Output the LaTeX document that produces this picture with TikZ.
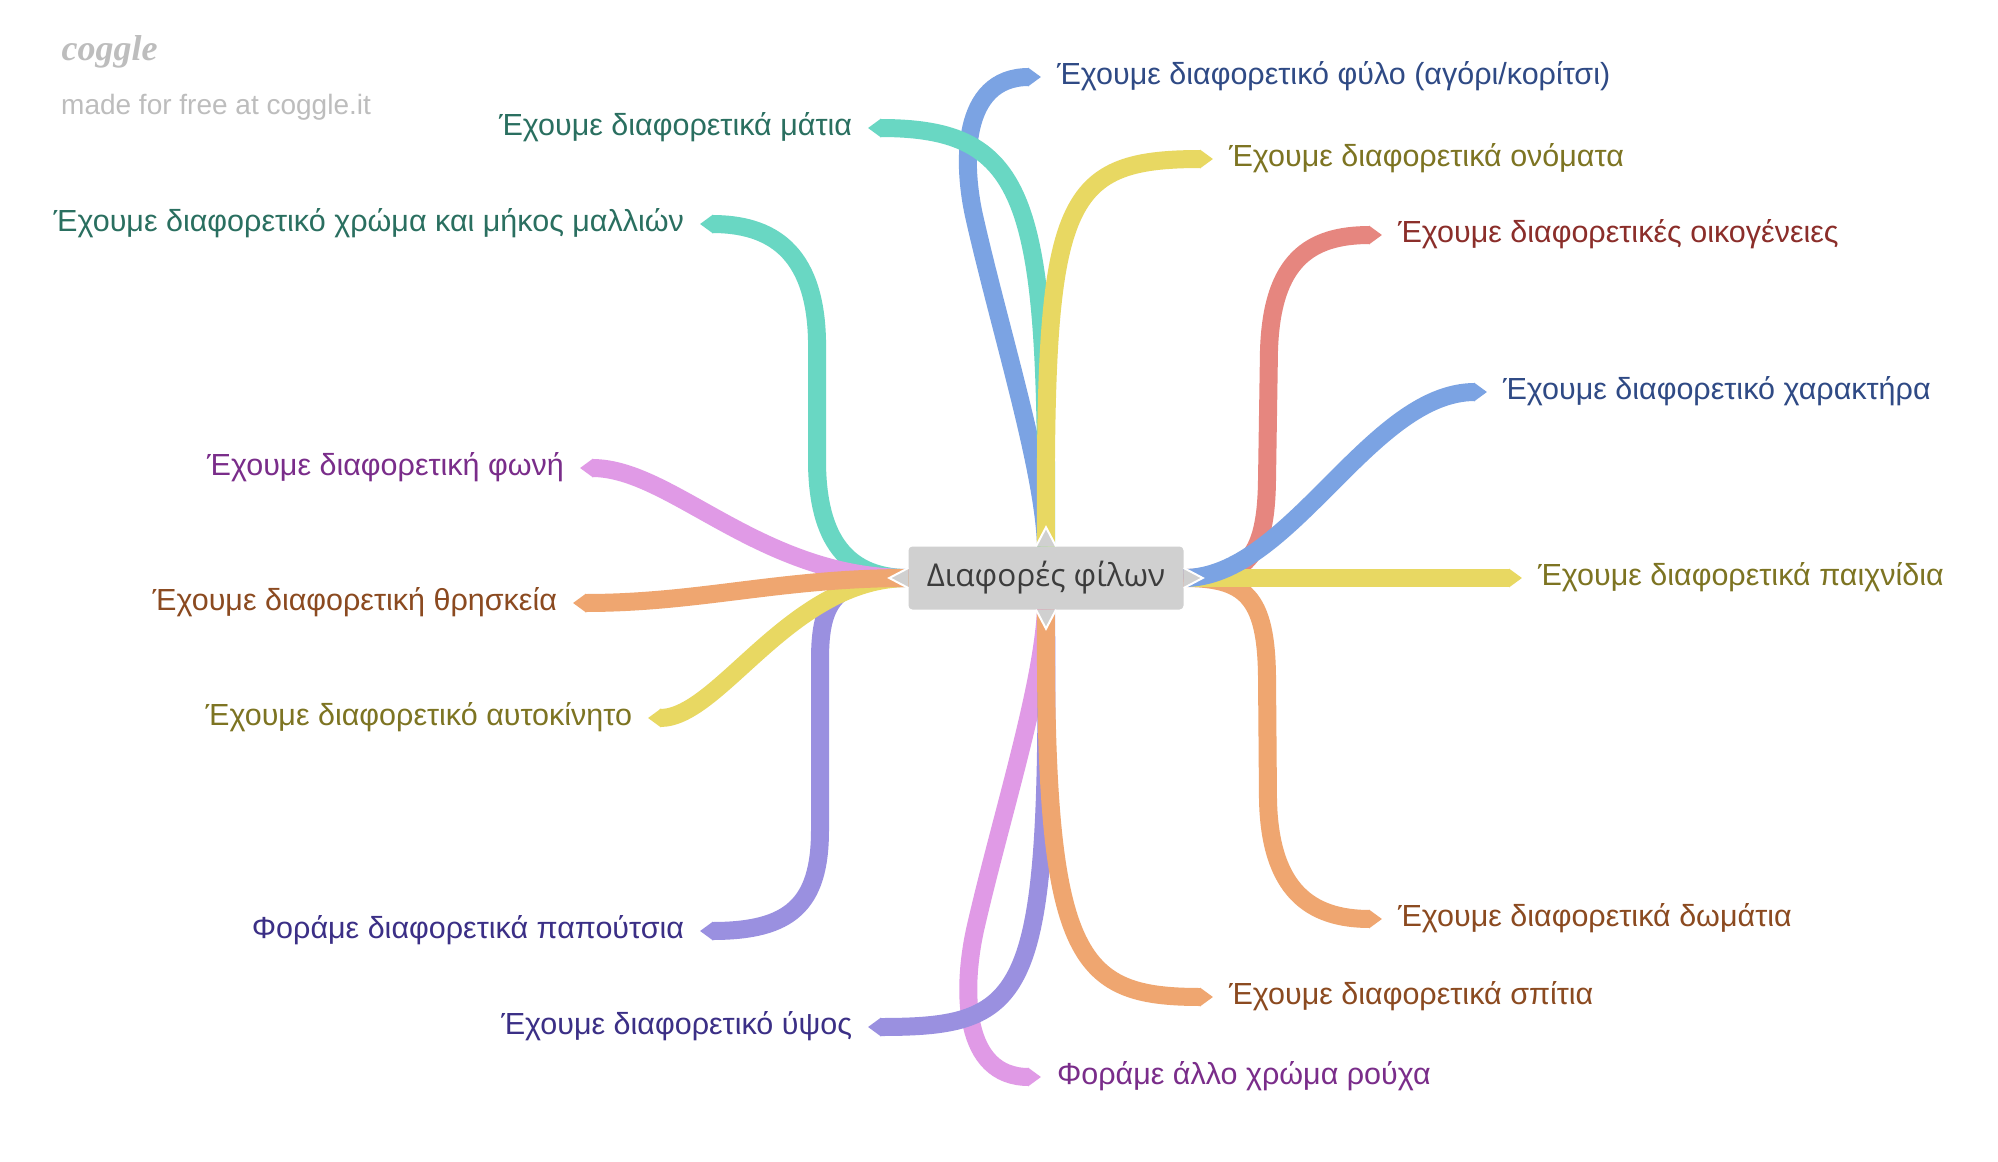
\documentclass[tikz,border=0pt]{standalone}
\usepackage{fontspec}
\setmainfont{Liberation Sans}
\newfontfamily\ctrfont{Open Sans}
\newfontfamily\logofont{Liberation Serif}
\usetikzlibrary{arrows.meta}
\definecolor{brBlue}{HTML}{7BA3E3}
\definecolor{txBlue}{HTML}{2F4A85}
\definecolor{brTeal}{HTML}{69D7C3}
\definecolor{txTeal}{HTML}{2A6F60}
\definecolor{brYellow}{HTML}{E8D862}
\definecolor{txYellow}{HTML}{7D7422}
\definecolor{brRed}{HTML}{E6867F}
\definecolor{txRed}{HTML}{8B2E2A}
\definecolor{brOrange}{HTML}{EFA670}
\definecolor{txOrange}{HTML}{8B4A20}
\definecolor{brPink}{HTML}{E09AE6}
\definecolor{txPink}{HTML}{7A2D8A}
\definecolor{brPurple}{HTML}{9A90E0}
\definecolor{txPurple}{HTML}{3B2F86}
\definecolor{boxGray}{HTML}{D0D0D0}
\definecolor{ctrText}{HTML}{3C3C3C}
\definecolor{logoGray}{HTML}{BDBDBD}

\begin{document}
\begin{tikzpicture}[x=1pt,y=-1pt,
  branch/.style={line width=18pt,-{Triangle[length=13pt,width=18pt]}},
  lblR/.style={anchor=west,inner sep=0pt,outer xsep=16pt,text height=15pt,text depth=0pt,font=\fontsize{30.5}{36}\selectfont},
  lblL/.style={lblR,anchor=east}]
\fill[white] (0,0) rectangle (1998,1162);
\useasboundingbox (0,0) rectangle (1998,1162);
\node[anchor=west,text=logoGray,font=\logofont\bfseries\itshape\fontsize{36}{40}\selectfont] (logo) at (58,52) {coggle};
\node[anchor=base west,inner sep=0pt,text=logoGray,font=\fontsize{28}{32}\selectfont] (made) at (61,114) {made for free at coggle.it};
\node[fill=boxGray,rounded corners=4pt,minimum width=275pt,minimum height=63pt,text=ctrText,font=\ctrfont\fontsize{31.5}{38}\selectfont] (ctr) at (1046,578) {Διαφορές φίλων};
\node[lblR,text=txBlue] (gender) at (1041,77) {Έχουμε διαφορετικό φύλο (αγόρι/κορίτσι)};
\node[lblR,text=txYellow] (names) at (1213,159) {Έχουμε διαφορετικά ονόματα};
\node[lblR,text=txRed] (family) at (1382,235) {Έχουμε διαφορετικές οικογένειες};
\node[lblR,text=txBlue] (character) at (1487,392) {Έχουμε διαφορετικό χαρακτήρα};
\node[lblR,text=txYellow] (toys) at (1522,578) {Έχουμε διαφορετικά παιχνίδια};
\node[lblR,text=txOrange] (rooms) at (1382,919) {Έχουμε διαφορετικά δωμάτια};
\node[lblR,text=txOrange] (houses) at (1213,997) {Έχουμε διαφορετικά σπίτια};
\node[lblR,text=txPink] (clothes) at (1041,1077) {Φοράμε άλλο χρώμα ρούχα};
\node[lblL,text=txTeal] (eyes) at (868,128) {Έχουμε διαφορετικά μάτια};
\node[lblL,text=txTeal] (hair) at (700,224) {Έχουμε διαφορετικό χρώμα και μήκος μαλλιών};
\node[lblL,text=txPink] (voice) at (580,468) {Έχουμε διαφορετική φωνή};
\node[lblL,text=txOrange] (religion) at (573,603) {Έχουμε διαφορετική θρησκεία};
\node[lblL,text=txYellow] (car) at (648,718) {Έχουμε διαφορετικό αυτοκίνητο};
\node[lblL,text=txPurple] (shoes) at (700,931) {Φοράμε διαφορετικά παπούτσια};
\node[lblL,text=txPurple] (height) at (868,1027) {Έχουμε διαφορετικό ύψος};
\draw[branch,brBlue] (ctr.north) .. controls (1044,470) and (1000,330) .. (975,220) .. controls (962,165) and (960,77) .. (gender.west);
\draw[branch,brTeal] (ctr.north) .. controls (1048,200) and (1030,128) .. (eyes.east);
\draw[branch,brYellow] (ctr.north) .. controls (1044,200) and (1060,159) .. (names.west);
\draw[branch,brTeal] (ctr.west) .. controls (840,578) and (817,530) .. (817,460) -- (817,340) .. controls (815,250) and (770,224) .. (hair.east);
\draw[branch,brPink] (ctr.west) .. controls (760,578) and (672,468) .. (voice.east);
\draw[branch,brPurple] (ctr.west) .. controls (835,578) and (820,600) .. (820,660) -- (820,830) .. controls (820,905) and (790,931) .. (shoes.east);
\draw[branch,brYellow] (ctr.west) .. controls (790,578) and (720,718) .. (car.east);
\draw[branch,brOrange] (ctr.west) .. controls (780,578) and (700,603) .. (religion.east);
\draw[branch,brRed] (ctr.east) .. controls (1245,578) and (1266,560) .. (1267,480) -- (1269,350) .. controls (1272,260) and (1310,235) .. (family.west);
\draw[branch,brOrange] (ctr.east) .. controls (1245,578) and (1266,596) .. (1267,676) -- (1268,800) .. controls (1270,890) and (1310,919) .. (rooms.west);
\draw[branch,brYellow] (ctr.east) -- (toys.west);
\draw[branch,brBlue] (ctr.east) .. controls (1290,578) and (1370,392) .. (character.west);
\draw[branch,brPink] (ctr.south) .. controls (1042,690) and (1000,820) .. (975,930) .. controls (962,990) and (962,1077) .. (clothes.west);
\draw[branch,brPurple] (ctr.south) .. controls (1050,1000) and (1030,1027) .. (height.east);
\draw[branch,brOrange] (ctr.south) .. controls (1044,960) and (1075,997) .. (houses.west);
\foreach \a/\dx/\dy/\px/\py in {west/-19/0/0/10, east/19/0/0/10, north/0/-19/10/0, south/0/19/10/0}{
  \fill[boxGray] ([shift={(\px,\py)}]ctr.\a) -- ([shift={(\dx,\dy)}]ctr.\a) -- ([shift={(-\px,-\py)}]ctr.\a) -- cycle;
  \draw[white,line width=2pt] ([shift={(\px,\py)}]ctr.\a) -- ([shift={(\dx,\dy)}]ctr.\a) -- ([shift={(-\px,-\py)}]ctr.\a);
}
\end{tikzpicture}
\end{document}
